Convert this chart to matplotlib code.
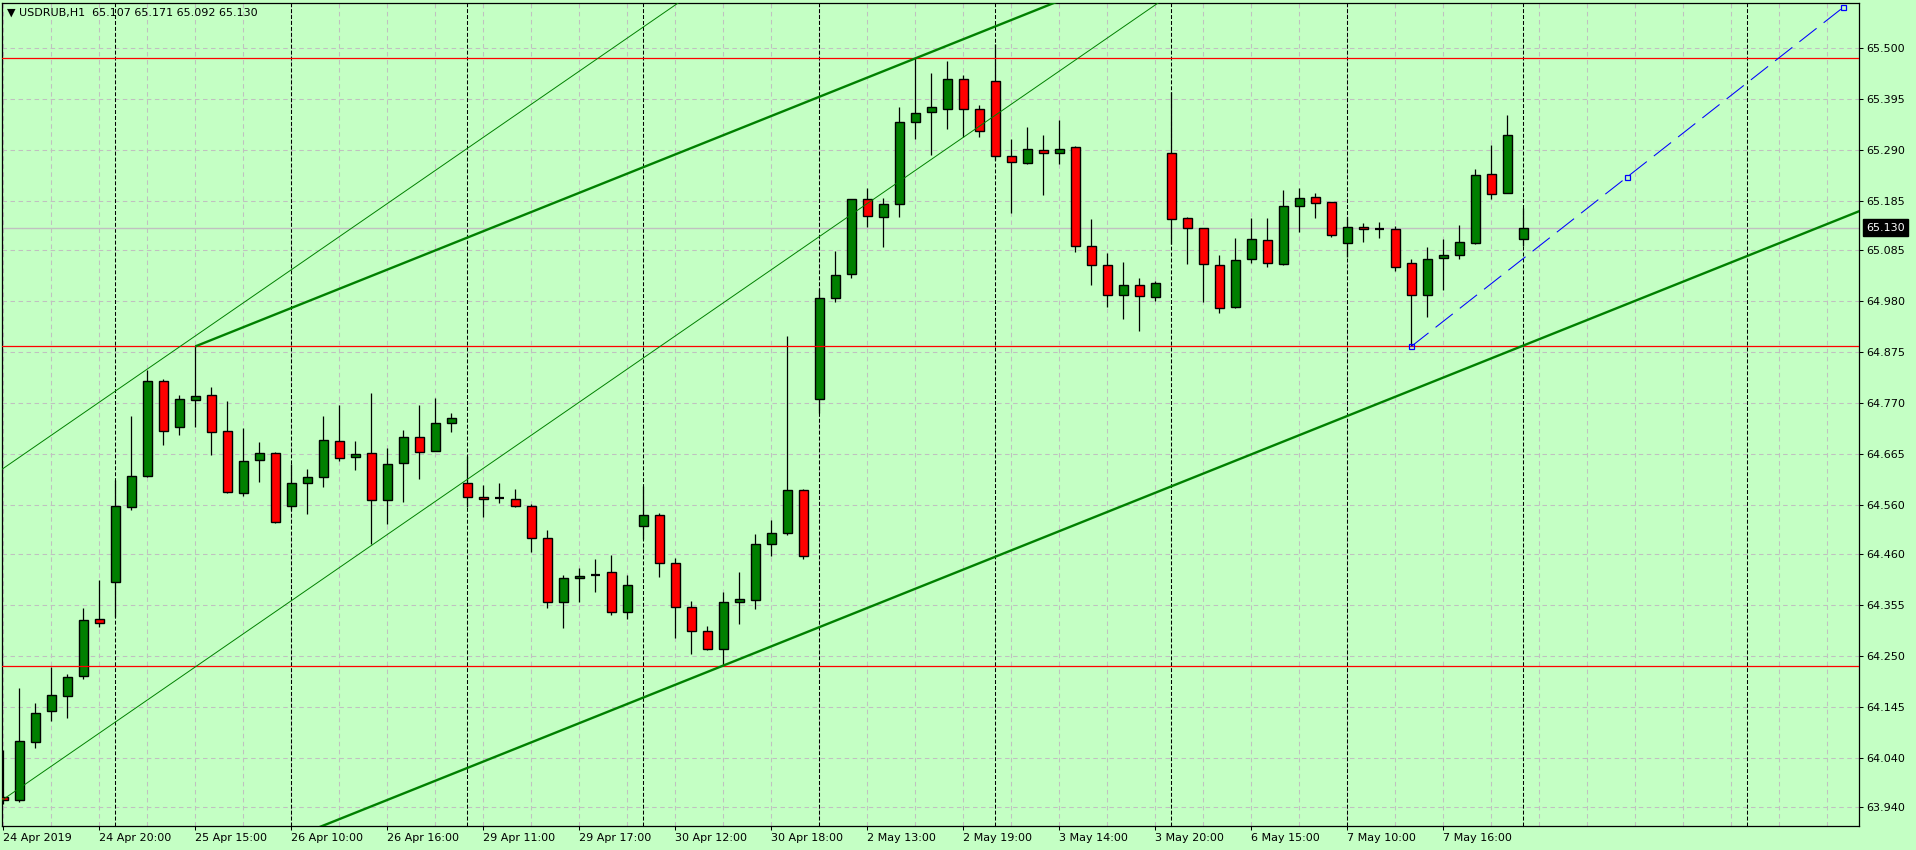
import matplotlib
matplotlib.use('Agg')
import matplotlib.pyplot as plt
from matplotlib.patches import Rectangle

# ---------------- data ----------------
symbol = 'USDRUB,H1'
opens = [63.959, 63.954, 64.072, 64.136, 64.167, 64.208, 64.325, 64.402, 64.555, 64.620,
         64.814, 64.720, 64.775, 64.787, 64.713, 64.585, 64.652, 64.666, 64.557, 64.605,
         64.617, 64.691, 64.658, 64.666, 64.570, 64.646, 64.699, 64.670, 64.728, 64.605,
         64.576, 64.574, 64.572, 64.557, 64.492, 64.360, 64.409, 64.417, 64.422, 64.341,
         64.516, 64.539, 64.440, 64.350, 64.302, 64.263, 64.360, 64.364, 64.479, 64.502,
         64.590, 64.777, 64.985, 65.034, 65.188, 65.153, 65.178, 65.347, 65.367, 65.373,
         65.435, 65.373, 65.431, 65.277, 65.264, 65.289, 65.283, 65.295, 65.092, 65.053,
         64.991, 65.012, 64.987, 65.283, 65.149, 65.129, 65.053, 64.966, 65.065, 65.104,
         65.055, 65.174, 65.194, 65.182, 65.098, 65.131, 65.128, 65.127, 65.057, 64.991,
         65.067, 65.073, 65.098, 65.240, 65.201, 65.107]
highs = [64.056, 64.183, 64.154, 64.228, 64.213, 64.348, 64.406, 64.611, 64.742, 64.838,
         64.818, 64.786, 64.886, 64.802, 64.774, 64.718, 64.689, 64.668, 64.644, 64.635,
         64.742, 64.766, 64.692, 64.791, 64.678, 64.714, 64.766, 64.779, 64.750, 64.661,
         64.601, 64.606, 64.593, 64.562, 64.509, 64.416, 64.431, 64.449, 64.457, 64.416,
         64.599, 64.543, 64.452, 64.362, 64.311, 64.381, 64.422, 64.500, 64.529, 64.907,
         64.593, 65.005, 65.083, 65.190, 65.211, 65.192, 65.379, 65.478, 65.448, 65.473,
         65.444, 65.382, 65.508, 65.313, 65.336, 65.320, 65.351, 65.297, 65.147, 65.077,
         65.059, 65.026, 65.020, 65.408, 65.151, 65.129, 65.073, 65.108, 65.149, 65.149,
         65.207, 65.211, 65.201, 65.182, 65.151, 65.139, 65.141, 65.133, 65.065, 65.090,
         65.106, 65.135, 65.250, 65.299, 65.361, 65.171]
lows = [63.945, 63.949, 64.060, 64.115, 64.122, 64.202, 64.309, 64.330, 64.550, 64.618,
        64.683, 64.704, 64.721, 64.663, 64.585, 64.579, 64.607, 64.524, 64.550, 64.542,
        64.598, 64.651, 64.631, 64.480, 64.521, 64.566, 64.614, 64.670, 64.711, 64.555,
        64.535, 64.565, 64.555, 64.463, 64.348, 64.307, 64.361, 64.382, 64.333, 64.326,
        64.490, 64.413, 64.287, 64.254, 64.261, 64.230, 64.315, 64.346, 64.456, 64.499,
        64.448, 64.750, 64.978, 65.026, 65.132, 65.091, 65.153, 65.313, 65.279, 65.332,
        65.317, 65.317, 65.269, 65.161, 65.260, 65.198, 65.260, 65.081, 65.012, 64.966,
        64.942, 64.917, 64.979, 65.096, 65.055, 64.978, 64.954, 64.964, 65.057, 65.050,
        65.053, 65.122, 65.149, 65.110, 65.070, 65.100, 65.108, 65.042, 64.886, 64.946,
        65.002, 65.065, 65.096, 65.190, 65.201, 65.092]
closes = [63.954, 64.074, 64.133, 64.169, 64.206, 64.323, 64.317, 64.558, 64.620, 64.814,
          64.713, 64.777, 64.785, 64.711, 64.587, 64.650, 64.666, 64.526, 64.605, 64.617,
          64.693, 64.656, 64.665, 64.570, 64.644, 64.699, 64.668, 64.728, 64.738, 64.576,
          64.572, 64.574, 64.557, 64.492, 64.360, 64.409, 64.415, 64.417, 64.341, 64.395,
          64.539, 64.440, 64.350, 64.302, 64.263, 64.360, 64.366, 64.479, 64.502, 64.590,
          64.455, 64.985, 65.032, 65.190, 65.155, 65.178, 65.347, 65.365, 65.379, 65.435,
          65.375, 65.328, 65.277, 65.266, 65.291, 65.283, 65.291, 65.092, 65.053, 64.991,
          65.012, 64.989, 65.016, 65.147, 65.129, 65.055, 64.964, 65.063, 65.106, 65.057,
          65.174, 65.192, 65.180, 65.116, 65.131, 65.127, 65.128, 65.049, 64.991, 65.065,
          65.073, 65.100, 65.238, 65.199, 65.320, 65.130]

x_tick_labels = ['24 Apr 2019', '24 Apr 20:00', '25 Apr 15:00', '26 Apr 10:00', '26 Apr 16:00',
                 '29 Apr 11:00', '29 Apr 17:00', '30 Apr 12:00', '30 Apr 18:00', '2 May 13:00',
                 '2 May 19:00', '3 May 14:00', '3 May 20:00', '6 May 15:00', '7 May 10:00',
                 '7 May 16:00']
y_tick_values = [65.500, 65.395, 65.290, 65.185, 65.085, 64.980, 64.875, 64.770,
                 64.665, 64.560, 64.460, 64.355, 64.250, 64.145, 64.040, 63.940]
day_separators = [7, 18, 29, 40, 51, 62, 73, 84, 95, 109]
red_levels = [65.478, 64.886, 64.230]

# thick channel (anchors: bar index, price)
channel_top_anchor = (12, 64.886)
channel_top_second = (57, 65.478)
channel_bottom_anchor = (45, 64.230)
# thin channel (price at bar 0, slope per bar)
thin_upper_start = 64.6353
thin_lower_start = 63.955
thin_slope = 0.02268
# blue dashed trendline
blue_start = (88, 64.886)
blue_end = (115, 65.583)

# ---------------- style ----------------
W, H = 1916, 850
BG = '#c4ffc4'
GRID = '#c0c0c0'
BULL = '#008000'
BEAR = '#ff0000'
plt.rcParams['font.family'] = ['DejaVu Sans']

fig = plt.figure(figsize=(W / 100, H / 100), dpi=100)
fig.patch.set_facecolor(BG)
ax = fig.add_axes([2 / W, (H - 826) / H, 1857 / W, 823.5 / H])
ax.set_facecolor(BG)
ax.set_xlim(-0.08, 115.98)
ax.set_ylim(63.9002, 65.5929)

# grid
for k in range(0, 117, 3):
    ax.axvline(k, color=GRID, lw=0.75, ls=(0, (4.3, 3.4)), zorder=1)
for v in y_tick_values:
    ax.axhline(v, color=GRID, lw=0.75, ls=(0, (4.3, 3.4)), zorder=1)
for s in day_separators:
    ax.axvline(s, color='black', lw=0.75, ls=(0, (3.8, 1.9)), zorder=1.5)

bid = closes[-1]
ax.axhline(bid, color=GRID, lw=1.0, zorder=2)

# candles
bw = 0.58
for i, (o, h, l, c) in enumerate(zip(opens, highs, lows, closes)):
    ax.vlines(i, l, h, color='black', lw=0.9, zorder=3)
    if abs(c - o) < 1e-9:
        ax.hlines(c, i - bw / 2, i + bw / 2, color='black', lw=1.6, zorder=4)
    else:
        col = BULL if c > o else BEAR
        ax.add_patch(Rectangle((i - bw / 2, min(o, c)), bw, abs(c - o),
                               facecolor=col, edgecolor='black', lw=1.0, zorder=4))

# red horizontal levels
for r in red_levels:
    ax.axhline(r, color='red', lw=0.9, zorder=5)

# thick channel
slope = (channel_top_second[1] - channel_top_anchor[1]) / (channel_top_second[0] - channel_top_anchor[0])
x0, y0 = channel_top_anchor
ax.plot([x0, 140], [y0, y0 + slope * (140 - x0)], color=BULL, lw=1.7, zorder=5,
        solid_capstyle='butt')
xb, yb = channel_bottom_anchor
ax.plot([-20, 140], [yb + slope * (-20 - xb), yb + slope * (140 - xb)], color=BULL,
        lw=1.7, zorder=5, solid_capstyle='butt')

# thin channel
for start in (thin_upper_start, thin_lower_start):
    ax.plot([-10, 140], [start - 10 * thin_slope, start + 140 * thin_slope],
            color=BULL, lw=0.7, zorder=5)

# blue dashed trendline with anchor squares
ax.plot([blue_start[0], blue_end[0]], [blue_start[1], blue_end[1]], color='blue',
        lw=0.75, ls=(0, (21, 8.6)), zorder=6)
mx = (blue_start[0] + blue_end[0]) / 2
my = (blue_start[1] + blue_end[1]) / 2
ax.plot([blue_start[0], mx, blue_end[0]], [blue_start[1], my, blue_end[1]], 's',
        ms=3.6, mfc='none', mec='blue', mew=0.9, zorder=7)

# axes / ticks
for sp in ax.spines.values():
    sp.set_color('black')
    sp.set_linewidth(0.9)
ax.yaxis.tick_right()
ax.set_yticks(y_tick_values)
ax.set_yticklabels([f'{v:.3f}' for v in y_tick_values])
ax.tick_params(axis='y', direction='out', length=3, width=0.75, pad=2.2,
               labelsize=8, colors='black')
ax.set_xticks(list(range(0, 6 * len(x_tick_labels), 6)))
ax.set_xticklabels(x_tick_labels)
ax.tick_params(axis='x', direction='out', length=3, width=0.75, pad=2,
               labelsize=8, colors='black')
for lab in ax.get_xticklabels():
    lab.set_horizontalalignment('left')

# bid price label
ax.text(1.0038, bid, f'{bid:.3f}', transform=ax.get_yaxis_transform(), color='white',
        fontsize=8, va='center', ha='left', clip_on=False, zorder=10,
        bbox=dict(boxstyle='square,pad=0.3', fc='black', ec='black'))

# title
fig.text(7 / W, 1 - 13 / H,
         f'\u25BC {symbol}  {opens[-1]:.3f} {highs[-1]:.3f} {lows[-1]:.3f} {closes[-1]:.3f}',
         fontsize=8, va='center', ha='left', color='black')

fig.savefig('out.png', dpi=100, facecolor=BG)
